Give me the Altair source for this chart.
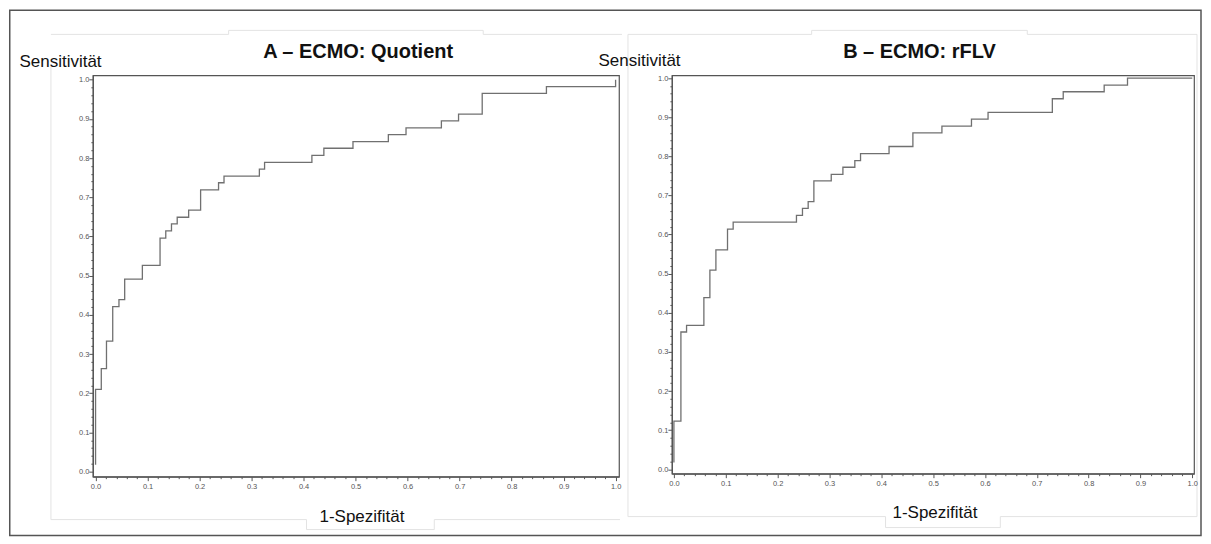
import altair as alt
import pandas as pd

# ---------------- data ----------------
A_fpr = [0.0, 0.0, 0.011, 0.021, 0.033, 0.045, 0.056, 0.090, 0.124, 0.135,
         0.146, 0.157, 0.179, 0.202, 0.2365, 0.247, 0.315, 0.325, 0.416, 0.439,
         0.495, 0.563, 0.597, 0.665, 0.698, 0.7435, 0.867, 1.0]
A_tpr = [0.0175, 0.210, 0.263, 0.333, 0.421, 0.439, 0.491, 0.526, 0.596, 0.614,
         0.632, 0.649, 0.667, 0.719, 0.737, 0.754, 0.772, 0.789, 0.807, 0.825,
         0.842, 0.860, 0.877, 0.895, 0.912, 0.965, 0.982, 1.0]

B_fpr = [0.0, 0.0, 0.0135, 0.0244, 0.0578, 0.0694, 0.081, 0.1034, 0.1143, 0.2364,
         0.248, 0.259, 0.270, 0.3035, 0.326, 0.349, 0.360, 0.415, 0.461, 0.517,
         0.574, 0.606, 0.730, 0.751, 0.830, 0.875, 1.0]
B_tpr = [0.0175, 0.123, 0.351, 0.368, 0.439, 0.509, 0.561, 0.614, 0.632, 0.649,
         0.667, 0.684, 0.737, 0.754, 0.772, 0.789, 0.807, 0.825, 0.860, 0.877,
         0.895, 0.912, 0.947, 0.965, 0.982, 1.0, 1.0]

TITLE_A = "A – ECMO: Quotient"
TITLE_B = "B – ECMO: rFLV"
Y_TITLE = "Sensitivität"
X_TITLE = "1-Spezifität"
TICK_VALUES = [round(i * 0.02, 2) for i in range(51)]

FONT = "Liberation Sans"
MAJOR = "abs(datum.value*10 - round(datum.value*10)) < 0.001"

# ---------------- layout constants (page pixels) ----------------
AX0, AY0 = 92, 74        # panel A view origin on the page
BX0, BY0 = 672, 74       # panel B view origin on the page
one = pd.DataFrame({"k": [0]})


def axis_common():
    return dict(
        values=TICK_VALUES,
        labelExpr=f"{MAJOR} ? format(datum.value, '.1f') : ''",
        tickSize={"condition": {"test": MAJOR, "value": 4}, "value": 2},
        tickColor="#555", tickWidth=1, domainColor="#555", domainWidth=1.2,
        labelColor="#555", labelFont=FONT, labelFontSize=7.5,
        grid=False, labelOverlap=False, labelFlush=False,
        titleFont=FONT, titleFontSize=17, titleFontWeight="normal",
        titleColor="#111", titleAngle=0, zindex=1,
    )


def curve(fpr, tpr, xdom, ydom, xt, yt):
    df = pd.DataFrame({"fpr": fpr, "tpr": tpr, "i": list(range(len(fpr)))})
    return alt.Chart(df).mark_line(
        interpolate="step-after", color="#707070", strokeWidth=1.3
    ).encode(
        x=alt.X("fpr:Q", scale=alt.Scale(domain=xdom, nice=False, zero=False),
                axis=alt.Axis(title=X_TITLE, titleX=xt[0], titleY=xt[1],
                              titleAlign="center", titleBaseline="alphabetic",
                              labelPadding=2, **axis_common())),
        y=alt.Y("tpr:Q", scale=alt.Scale(domain=ydom, nice=False, zero=False),
                axis=alt.Axis(title=Y_TITLE, titleX=yt[0], titleY=yt[1],
                              titleAlign="left", titleBaseline="alphabetic",
                              labelPadding=0, **axis_common())),
        order="i:Q",
    )


def seg(x1, y1, x2, y2, color="#e3e3e3", width=1.0):
    return alt.Chart(one).mark_rule(color=color, strokeWidth=width).encode(
        x=alt.value(x1 - AX0), y=alt.value(y1 - AY0),
        x2=alt.value(x2 - AX0), y2=alt.value(y2 - AY0))


def label(txt, x, y, size=20, weight="bold"):
    return alt.Chart(one).mark_text(
        text=txt, font=FONT, fontSize=size, fontWeight=weight, color="#111",
        align="center", baseline="alphabetic"
    ).encode(x=alt.value(x - AX0), y=alt.value(y - AY0))


# outer frame of the whole figure (outline only)
frame = alt.Chart(one).mark_rect(filled=False, stroke="#555", strokeWidth=1.5).encode(
    x=alt.value(8.75 - AX0), x2=alt.value(1202 - AX0),
    y=alt.value(8.75 - AY0), y2=alt.value(535 - AY0))

# faint outlines of the pasted sub-figures
faint = [
    seg(50, 33, 228, 33), seg(228, 29, 483, 29), seg(228, 29, 228, 33),
    seg(483, 29, 483, 33), seg(483, 33, 622, 33), seg(50, 64, 50, 519),
    seg(50, 519, 306, 519), seg(434, 519, 620, 519), seg(306, 519, 306, 529),
    seg(434, 519, 434, 529), seg(306, 529, 434, 529),
    seg(628, 33, 812, 33), seg(812, 29, 1028, 29), seg(812, 29, 812, 33),
    seg(1028, 29, 1028, 33), seg(1028, 33, 1198, 33), seg(628, 33, 628, 516),
    seg(1198, 33, 1198, 516),
    seg(628, 516, 886, 516), seg(1001, 516, 1198, 516), seg(886, 516, 886, 527),
    seg(1001, 516, 1001, 527), seg(886, 527, 1001, 527),
]

titles = [label(TITLE_A, 357.7, 57), label(TITLE_B, 920, 57)]

curve_a = curve(A_fpr, A_tpr, [-0.0052, 1.0065], [-0.0127, 1.011],
                (361 - AX0, 45), (18 - AX0, 65 - AY0))
curve_b = curve(B_fpr, B_tpr, [-0.0039, 1.0033], [-0.011, 1.0069],
                (935 - BX0, 44), (598 - BX0, 64 - BY0))

panel_a = alt.layer(frame, *faint, curve_a, *titles).properties(width=527, height=402)
panel_b = curve_b.properties(width=523, height=399)

chart = alt.hconcat(panel_a, panel_b, spacing=BX0 - AX0 - 527, bounds="flush").properties(
    padding=0, background="white"
).configure_view(stroke="#555", strokeWidth=1.2)

chart.save("out.html", embed_options={"renderer": "svg", "actions": False})
